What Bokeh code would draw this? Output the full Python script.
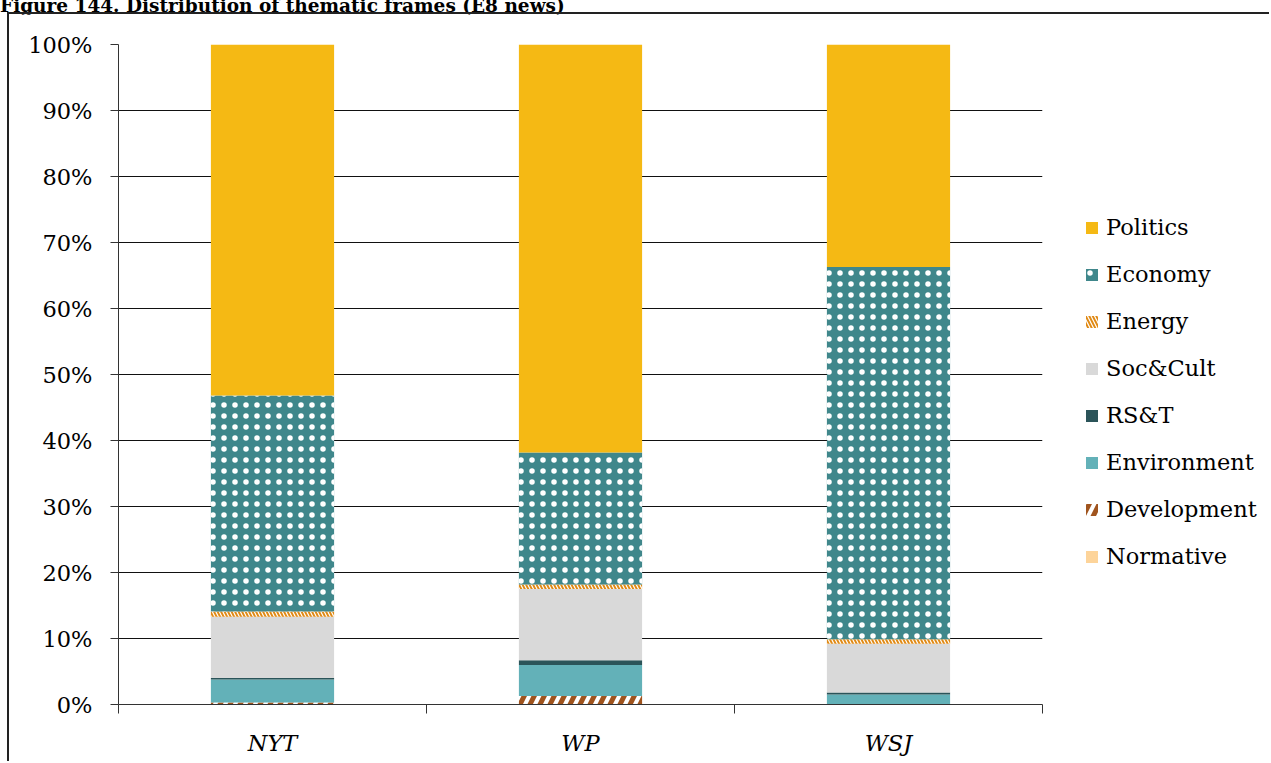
from bokeh.plotting import figure
from bokeh.models import (ColumnDataSource, FixedTicker, Legend, LegendItem,
                          NumeralTickFormatter, Div)
from bokeh.layouts import column, row
from bokeh.embed import file_html
from bokeh.resources import INLINE

# ---------------- data (percent shares) ----------------
outlets = ["NYT", "WP", "WSJ"]
frames = ["Normative", "Development", "Environment", "RS&T",
          "Soc&Cult", "Energy", "Economy", "Politics"]   # bottom -> top
normative   = [0.0, 0.0, 0.0]
development = [0.3, 1.3, 0.0]
environment = [3.5, 4.7, 1.5]
rst         = [0.2, 0.7, 0.3]
soccult     = [9.3, 10.8, 7.4]
energy      = [0.8, 0.7, 0.7]
economy     = [32.7, 20.0, 56.4]
politics    = [53.2, 61.8, 33.7]
y_ticks = [0, 10, 20, 30, 40, 50, 60, 70, 80, 90, 100]
title_text = "Figure 144. Distribution of thematic frames (E8 news)"

series = [normative, development, environment, rst, soccult, energy, economy, politics]

# ---------------- styles ----------------
FONT = "DejaVu Serif"
fill_colors  = ["#FDD49A", "#FFFFFF", "#63B1B8", "#2B5459", "#D9D9D9", "#E08A16", "#3F878B", "#F5B914"]
hatch_pats   = [" ", "/", " ", " ", " ", "\\", ".", " "]
hatch_colors = ["#FFFFFF", "#A0541E", "#FFFFFF", "#FFFFFF", "#FFFFFF", "#FFFFFF", "#FFFFFF", "#FFFFFF"]
hatch_scales = [8, 20, 8, 8, 8, 7, 11, 8]
hatch_weights = [1, 5, 1, 1, 1, 1.2, 2.2, 1]

xs = [i + 0.5 for i in range(len(outlets))]
data = {"x": xs}
for name, vals in zip(frames, series):
    data[name] = vals
src = ColumnDataSource(data)

# ---------------- main chart ----------------
p = figure(width=1043, height=749, x_range=(0, len(outlets)), y_range=(0, 100),
           output_backend="svg", toolbar_location=None,
           min_border_left=109, min_border_right=10, min_border_top=30, min_border_bottom=59)
p.outline_line_color = None
p.background_fill_color = "white"
p.border_fill_color = "white"

renderers = p.vbar_stack(frames, x="x", width=0.4, source=src,
                         fill_color=fill_colors, line_color=None,
                         hatch_pattern=hatch_pats, hatch_color=hatch_colors,
                         hatch_scale=hatch_scales, hatch_weight=hatch_weights)

# y axis
p.yaxis.ticker = FixedTicker(ticks=y_ticks)
p.yaxis.formatter = NumeralTickFormatter(format="0")
p.yaxis.major_label_overrides = {t: f"{t}%" for t in y_ticks}
p.yaxis.major_tick_in = 0
p.yaxis.major_tick_out = 8
p.yaxis.minor_tick_line_color = None
p.yaxis.major_label_standoff = 18
p.yaxis.axis_line_color = "#333333"
p.yaxis.major_tick_line_color = "#333333"
p.yaxis.major_label_text_font = FONT
p.yaxis.major_label_text_font_size = "22.5px"
p.yaxis.major_label_text_color = "black"

# x axis: labels at centres, ticks at category boundaries
p.xaxis.ticker = FixedTicker(ticks=xs, minor_ticks=list(range(len(outlets) + 1)))
p.xaxis.major_label_overrides = {x: o for x, o in zip(xs, outlets)}
p.xaxis.major_tick_line_color = None
p.xaxis.major_tick_in = 0
p.xaxis.major_tick_out = 0
p.xaxis.minor_tick_in = 0
p.xaxis.minor_tick_out = 9
p.xaxis.minor_tick_line_color = "#333333"
p.xaxis.axis_line_color = "#333333"
p.xaxis.major_label_standoff = 16
p.xaxis.major_label_text_font = FONT
p.xaxis.major_label_text_font_style = "italic"
p.xaxis.major_label_text_font_size = "22.5px"
p.xaxis.major_label_text_color = "black"

p.xgrid.grid_line_color = None
p.ygrid.ticker = FixedTicker(ticks=y_ticks)
p.ygrid.grid_line_color = "#111111"
p.ygrid.grid_line_width = 1

# ---------------- legend panel (same styles, zero-height swatch bars) ----------------
lg = figure(width=219, height=749, x_range=(0, 1), y_range=(0, 1),
            output_backend="svg", toolbar_location=None,
            x_axis_location=None, y_axis_location=None,
            min_border_left=0, min_border_right=0, min_border_top=0, min_border_bottom=0)
lg.outline_line_color = None
lg.grid.visible = False
lg.border_fill_color = "white"
swatches = []
for i, f in enumerate(frames):
    r = lg.vbar(x=[0], top=[0], width=0.0, fill_color=fill_colors[i], line_color=None,
                hatch_pattern=hatch_pats[i], hatch_color=hatch_colors[i],
                hatch_scale=hatch_scales[i], hatch_weight=hatch_weights[i])
    swatches.append(r)

items = [LegendItem(label=f, renderers=[r]) for f, r in zip(frames, swatches)][::-1]
legend = Legend(items=items, location=(32, 135), padding=0, margin=0,
                border_line_color=None, background_fill_alpha=0,
                glyph_width=15, glyph_height=15, label_standoff=7,
                label_text_font=FONT, label_text_font_size="22.5px",
                label_text_color="black", spacing=21)
lg.add_layout(legend, "center")

# ---------------- title + outer frame ----------------
title = Div(text=(f'<div style="font-family:\'DejaVu Serif\';font-weight:bold;font-size:18.5px;'
                  f'line-height:18.5px;margin-top:-9px;white-space:nowrap;color:black">{title_text}</div>'),
            width=800, height=14, margin=(0, 0, 0, 0), styles={"overflow": "visible"})

body = row(p, lg, spacing=0, margin=(0, 0, 0, 9),
           styles={"box-shadow": "-2px -2px 0 0 #222222"})

layout = column(title, body, spacing=0)
open("out.html", "w").write(file_html(layout, INLINE))
